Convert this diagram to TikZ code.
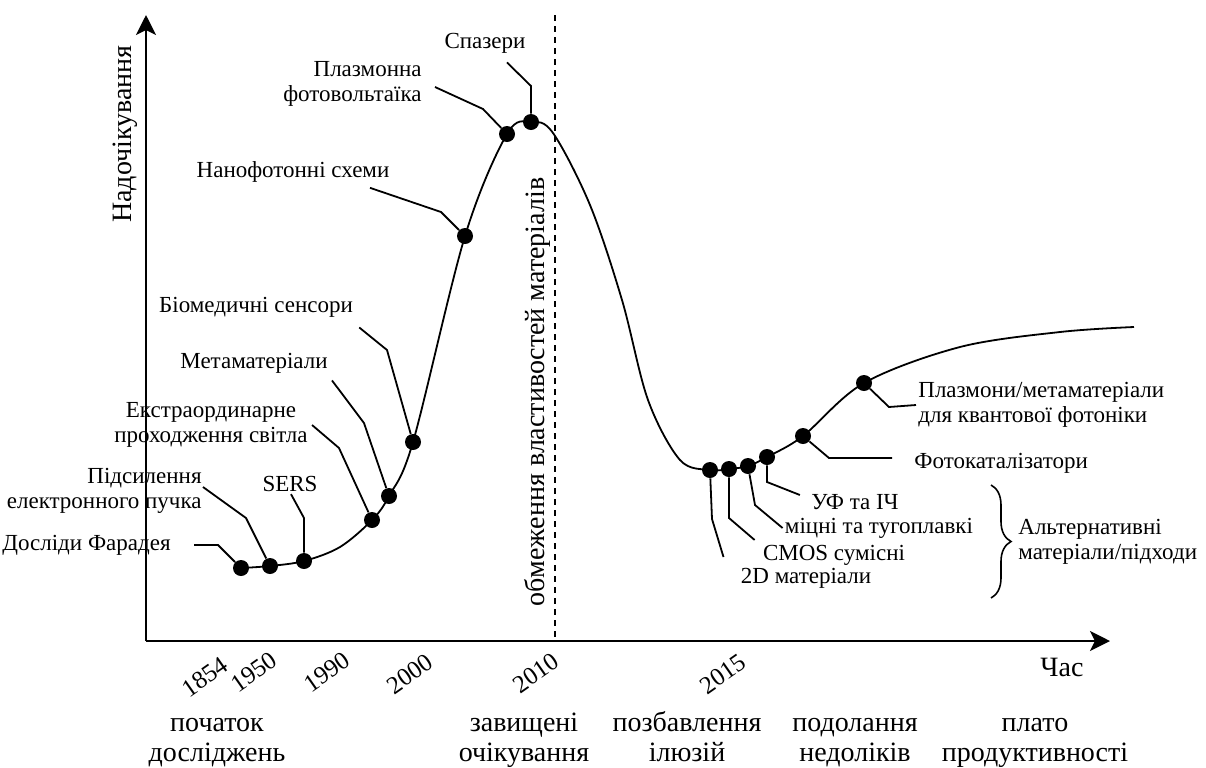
\documentclass[tikz,border=0pt]{standalone}
\usepackage{fontspec}
\setmainfont{Liberation Serif}
\usetikzlibrary{arrows.meta,calc,decorations.pathreplacing}

\tikzset{
  dot/.style={circle,fill,inner sep=0pt,minimum size=8pt},
  lbl/.style={inner sep=1pt,font=\fontsize{11.5}{12.5}\selectfont},
  big/.style={inner sep=1pt,font=\fontsize{14}{15}\selectfont},
  stage/.style={inner sep=1pt,align=center,anchor=base,font=\fontsize{14}{15}\selectfont},
  year/.style={inner sep=0pt,rotate=35,font=\fontsize{12.5}{13}\selectfont},
  axis/.style={line width=1.3pt,-{Stealth[length=10pt,width=10pt,inset=2.5pt]}},
  leader/.style={line width=0.9pt},
}

\begin{document}
\begin{tikzpicture}[x=0.5pt,y=-0.5pt]
  \useasboundingbox (0,0) rectangle (1206,767);
  \coordinate (o) at (146,641);
  \coordinate (ytip) at (146,15);
  \coordinate (xtip) at (1110,641);
  \coordinate (limtop) at (555,15);
  \coordinate (limbot) at (555,641);
  \draw[axis] (o) -- (ytip);
  \draw[axis] (o) -- (xtip);
  \draw[line width=0.9pt,dash pattern=on 3pt off 2.5pt] (limtop) -- (limbot);
  \node[big,rotate=90] (hype) at (125,134) {Надочікування};
  \node[big] (time) at (1062,667) {Час};
  \node[big,rotate=90] (limit) at (537,392) {обмеження властивостей матеріалів};

  \node[dot] (d1) at (241,568) {};
  \node[dot] (d2) at (270,566) {};
  \node[dot] (d3) at (304,561) {};
  \node[dot] (d4) at (372,520) {};
  \node[dot] (d5) at (389,496) {};
  \node[dot] (d6) at (413,442) {};
  \node[dot] (d7) at (465,236) {};
  \node[dot] (d8) at (507,134) {};
  \node[dot] (d9) at (531,122) {};
  \node[dot] (d10) at (710,470) {};
  \node[dot] (d11) at (729,469) {};
  \node[dot] (d12) at (748,466) {};
  \node[dot] (d13) at (767,457) {};
  \node[dot] (d14) at (803,436) {};
  \node[dot] (d15) at (864,383) {};
  \draw[line width=0.9pt] plot[smooth,tension=0.55] coordinates {
    (d1) (d2) (d3) (340,547) (d4) (d5) (d6) (d7) (d8) (d9)
    (553,133) (590,205) (622,300) (648,400) (680,460)
    (d10) (d11) (d12) (d13) (d14) (d15)
    (960,347) (1060,332) (1134,327)};

  \node[lbl,anchor=east] (faraday) at (173,545) {Досліди Фарадея};
  \node[lbl,anchor=east,align=right] (boost) at (204,491) {Підсилення\\електронного пучка};
  \node[lbl] (sers) at (290,484) {SERS};
  \node[lbl,align=center] (extra) at (211,425) {Екстраординарне\\проходження світла};
  \node[lbl] (meta) at (254,363) {Метаматеріали};
  \node[lbl] (bio) at (256,307) {Біомедичні сенсори};
  \node[lbl] (nano) at (293,172) {Нанофотонні схеми};
  \node[lbl,anchor=east,align=right] (pv) at (424,84) {Плазмонна\\фотовольтаїка};
  \node[lbl] (spaser) at (485,43) {Спазери};
  \node[lbl,anchor=west,align=left] (quantum) at (916,405) {Плазмони/метаматеріали\\для квантової фотоніки};
  \node[lbl,anchor=west] (catal) at (912,463) {Фотокаталізатори};
  \node[lbl] (uvir) at (855,502) {УФ та ІЧ};
  \node[lbl] (strong) at (879,528) {міцні та тугоплавкі};
  \node[lbl] (cmos) at (834,555) {CMOS сумісні};
  \node[lbl] (twod) at (806,578) {2D матеріали};
  \node[lbl,anchor=west,align=left] (alt) at (1016,542) {Альтернативні\\матеріали/підходи};

  \begin{scope}[leader]
    \draw (d1) -- ++(-23,-23) -- ($(faraday.east)+(21,0)$);
    \draw (d2) -- ++(-24,-48) -- ($(boost.east)+(-1,-4)$);
    \draw (d3) -- ++(0,-43) -- ($(sers.south)+(1,0)$);
    \draw (d4) -- ++(-33,-72) -- ($(extra.east)+(2,0)$);
    \draw (d5) -- ++(-25,-73) -- ($(meta.south east)+(2,5)$);
    \draw (d6) -- ++(-26,-92) -- ($(bio.south east)+(4,8)$);
    \draw (d7) -- ++(-24,-24) -- ($(nano.south)+(77,3)$);
    \draw (d8) -- ++(-24,-25) -- ($(pv.east)+(11,3)$);
    \draw (d9) -- ++(0,-36) -- ($(spaser.south)+(22,7)$);
    \draw (d10) -- ++(2,49) -- ($(twod.west)+(-15,-21)$);
    \draw (d11) -- ++(0,49) -- ($(cmos.west)+(-6,-15)$);
    \draw (d12) -- ++(7,39) -- (strong.west);
    \draw (d13) -- ++(0,25) -- ($(uvir.west)+(-9,-7)$);
    \draw (d14) -- ++(26,22) -- ($(catal.west)+(-20,-5)$);
    \draw (d15) -- ++(25,24) -- (quantum.west);
  \end{scope}
  \draw[line width=0.8pt,decorate,decoration={brace,amplitude=10pt}] (991,485) -- (991,598);

  \node[year] (y1854) at (205,677) {1854};
  \node[year] (y1950) at (254,672) {1950};
  \node[year] (y1990) at (327,672) {1990};
  \node[year] (y2000) at (410,674) {2000};
  \node[year] (y2010) at (536,673) {2010};
  \node[year] (y2015) at (723,674) {2015};

  \node[stage] (start) at (217,761) {початок\\досліджень};
  \node[stage] (peak) at (524,761) {завищені\\очікування};
  \node[stage] (trough) at (687,761) {позбавлення\\ілюзій};
  \node[stage] (slope) at (855,761) {подолання\\недоліків};
  \node[stage] (plateau) at (1035,761) {плато\\продуктивності};
\end{tikzpicture}
\end{document}
